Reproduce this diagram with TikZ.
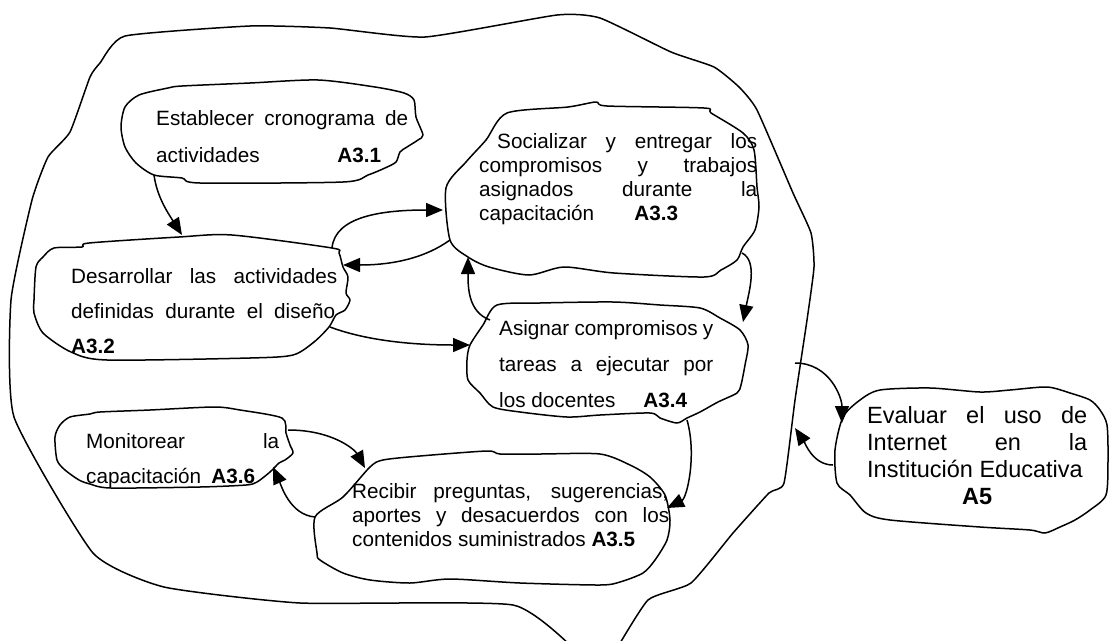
\documentclass[tikz,border=0pt]{standalone}
\usepackage{fontspec}
\setmainfont{Liberation Sans}
\usetikzlibrary{arrows.meta}
\newcommand\jl[2]{\makebox[#1][s]{#2}}
\begin{document}
\begin{tikzpicture}[x=1pt,y=-1pt,
  blob/.style={draw=black, line width=1.5pt, line join=round},
  conn/.style={draw=black, line width=1.5pt, -{Triangle[length=17pt,width=14pt]}},
  txt/.style={inner sep=0pt, anchor=base west},
  plain/.style={txt, font=\fontsize{20.7}{24}\selectfont}]
\useasboundingbox (0,0) rectangle (1110,640);
\fill[white] (0,0) rectangle (1110,640);

% outer boundary
\draw[blob] plot[smooth, tension=0.3] coordinates {
 (613,655) (648,600) (691,583) (733,533) (769,493) (784,483) (795,400) (807,320) (814,267) (811,233)
 (793,193) (757,110) (739,87) (714,67) (671,52) (600,18) (557,15) (425,37) (330,28) (250,26)
 (125,36) (100,63) (90,77) (70,132) (48,157) (32,200) (11,300) (14,417) (93,553) (164,587)
 (300,603) (513,605) (580,655)};

% activity blobs
\draw[blob] plot[smooth cycle, tension=0.45] coordinates {
 (125,107) (139,95) (168,88) (182,86) (250,83) (318,80) (375,87) (404,93) (414,100) (416,117)
 (423,135) (418,140) (407,147) (400,152) (396,162) (385,168) (368,175) (343,182) (200,183)
 (182,178) (154,175) (136,163) (125,147) (121,127)};
\draw[blob] plot[smooth cycle, tension=0.45] coordinates {
 (54,248) (82,247) (89,243) (179,237) (232,235) (332,248) (339,253) (343,267) (348,277) (346,293)
 (350,300) (345,310) (336,315) (329,327) (314,342) (293,355) (250,358) (107,360) (71,352)
 (43,333) (34,313) (34,300) (36,267) (43,257)};
\draw[blob] plot[smooth cycle, tension=0.45] coordinates {
 (507,113) (568,107) (596,102) (607,106) (704,108) (711,113) (743,133) (754,150) (757,187)
 (759,207) (755,230) (743,247) (737,260) (721,270) (704,277) (614,273) (564,267) (529,275)
 (489,267) (468,257) (450,240) (446,188) (466,162) (486,140)};
\draw[blob] plot[smooth cycle, tension=0.45] coordinates {
 (497,305) (540,303) (613,302) (660,305) (700,308) (720,318) (740,330) (748,345) (745,365)
 (741,385) (737,393) (718,402) (700,412) (687,418) (677,423) (660,418) (650,413) (600,415)
 (567,417) (520,412) (493,407) (480,393) (468,380) (467,360) (470,345) (483,325)};
\draw[blob] plot[smooth cycle, tension=0.45] coordinates {
 (370,467) (383,460) (420,456) (487,451) (500,454) (540,454) (600,454) (630,465) (650,477)
 (665,495) (670,520) (667,540) (655,560) (643,573) (620,582) (600,585) (520,583) (450,579)
 (410,583) (370,580) (343,573) (320,560) (317,553) (315,517) (343,497)};
\draw[blob] plot[smooth cycle, tension=0.45] coordinates {
 (70,417) (90,414) (100,412) (150,410) (214,407) (240,410) (282,418) (286,433) (290,445)
 (293,453) (285,460) (279,463) (270,472) (257,482) (246,485) (200,487) (111,488) (90,484)
 (79,480) (65,470) (57,460) (55,437) (60,425)};
\draw[blob] plot[smooth cycle, tension=0.45] coordinates {
 (880,390) (930,388) (980,392) (1010,390) (1047,387) (1070,393) (1090,400) (1100,410)
 (1107,425) (1108,460) (1106,495) (1090,510) (1075,520) (1060,527) (1045,533) (1030,530)
 (980,527) (890,520) (866,513) (850,495) (837,483) (835,450) (843,417) (860,400)};

% texts
\node[txt, font=\fontsize{20.7}{37}\selectfont] (t31) at (156,125) {\begin{tabular}[t]{@{}l@{}}
 \jl{252pt}{Establecer cronograma de}\\
 \makebox[225pt][l]{actividades\hfill\textbf{A3.1}}\end{tabular}};
\node[txt, font=\fontsize{20.7}{35}\selectfont] (t32) at (71,283) {\begin{tabular}[t]{@{}l@{}}
 \jl{266pt}{Desarrollar las actividades}\\
 \jl{264pt}{definidas durante el diseño}\\
 \textbf{A3.2}\end{tabular}};
\node[plain] (t33) at (479,148) {\begin{tabular}[t]{@{}l@{}}
 \hspace*{18pt}\jl{260pt}{Socializar y entregar los}\\
 \jl{278pt}{compromisos y trabajos}\\
 \jl{278pt}{asignados durante la}\\
 \makebox[199pt][l]{capacitación\hfill\textbf{A3.3}}\end{tabular}};
\node[txt, font=\fontsize{20.7}{36}\selectfont] (t34) at (499,335) {\begin{tabular}[t]{@{}l@{}}
 \jl{214pt}{Asignar compromisos y}\\
 \jl{214pt}{tareas a ejecutar por}\\
 \makebox[188pt][l]{los docentes\hfill\textbf{A3.4}}\end{tabular}};
\node[plain] (t35) at (352,498) {\begin{tabular}[t]{@{}l@{}}
 \jl{316pt}{Recibir preguntas, sugerencias,}\\
 \jl{317pt}{aportes y desacuerdos con los}\\
 contenidos suministrados \textbf{A3.5}\end{tabular}};
\node[txt, font=\fontsize{20.7}{35}\selectfont] (t36) at (86,448) {\begin{tabular}[t]{@{}l@{}}
 \jl{193pt}{Monitorear la}\\
 \makebox[169pt][l]{capacitación\hfill\textbf{A3.6}}\end{tabular}};
\node[txt, font=\fontsize{23.5}{27}\selectfont] (t5) at (867,423) {\begin{tabular}[t]{@{}l@{}}
 \jl{220pt}{Evaluar el uso de}\\
 \jl{220pt}{Internet en la}\\
 Institución Educativa\\
 \makebox[220pt][c]{\textbf{A5}}\end{tabular}};

% connector end points
\coordinate (a31b) at (154,175);  \coordinate (a32t) at (182,235);
\coordinate (a32r) at (332,248);  \coordinate (a33l) at (443,210);
\coordinate (a33b) at (450,240);  \coordinate (a32a) at (343,265);
\coordinate (a34t) at (490,320);  \coordinate (a33c) at (468,257);
\coordinate (a33r) at (742,253);  \coordinate (a34r) at (743,322);
\coordinate (a32d) at (330,327);  \coordinate (a34l) at (470,345);
\coordinate (a34b) at (687,420);  \coordinate (a35r) at (667,508);
\coordinate (a36r) at (288,430);  \coordinate (a35t) at (365,468);
\coordinate (a35l) at (315,517);  \coordinate (a36b) at (273,467);
\coordinate (outr) at (795,363);  \coordinate (a5t)  at (842,423);
\coordinate (a5l)  at (833,465);  \coordinate (outq) at (795,428);

\draw[conn] (a31b) .. controls +(3,22) and +(-14,-22) .. (a32t);
\draw[conn] (a32r) .. controls +(3,-32) and +(-60,0) .. (a33l);
\draw[conn] (a33b) .. controls +(-25,18) and +(50,0) .. (a32a);
\draw[conn] (a34t) .. controls +(-22,-8) and +(0,30) .. (a33c);
\draw[conn] (a33r) .. controls +(16,8) and +(6,-30) .. (a34r);
\draw[conn] (a32d) .. controls +(40,15) and +(-50,0) .. (a34l);
\draw[conn] (a34b) .. controls +(10,35) and +(20,-10) .. (a35r);
\draw[conn] (a36r) .. controls +(45,0) and +(-10,-18) .. (a35t);
\draw[conn] (a35l) .. controls +(-25,-2) and +(8,18) .. (a36b);
\draw[conn] (outr) .. controls +(35,0) and +(0,-25) .. (a5t);
\draw[conn] (a5l) .. controls +(-20,0) and +(10,15) .. (outq);
\end{tikzpicture}
\end{document}
